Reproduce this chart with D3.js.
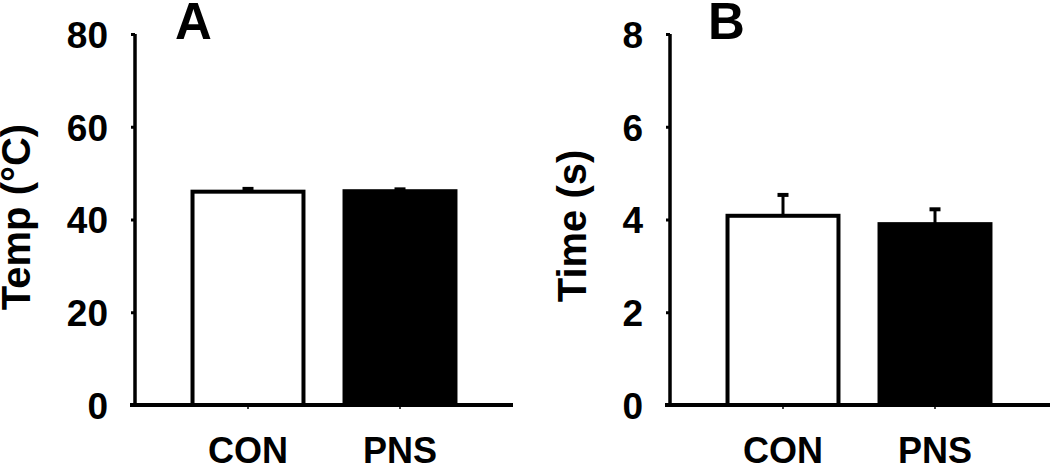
<!DOCTYPE html>
<html>
<head>
<meta charset="utf-8">
<script src="https://cdn.jsdelivr.net/npm/d3@7"></script>
<style>
  body { margin: 0; background: #fff; }
  text { font-family: "Liberation Sans", Arial, sans-serif; font-weight: bold; fill: #000; }
</style>
</head>
<body>
<svg width="1050" height="470"></svg>
<script>
// groups and values
var groups = ["CON", "PNS"];
var fills = ["#fff", "#000"];

var tempMean = [46.0, 46.1];
var tempSem = [0.6, 0.4];
var tempTicks = [0, 20, 40, 60, 80];

var timeMean = [4.08, 3.9];
var timeSem = [0.45, 0.32];
var timeTicks = [0, 2, 4, 6, 8];

var svg = d3.select("svg");

function panel(opts) {
  var y = d3.scaleLinear().domain([0, opts.max]).range([405, 34]);
  var x = d3.scaleBand().domain(groups)
      .range([opts.left, opts.left + 380])
      .paddingInner(0.27).paddingOuter(0.385);

  var g = svg.append("g");

  // bars
  g.selectAll("rect.bar")
    .data(groups)
    .enter().append("rect")
    .attr("class", "bar")
    .attr("x", function(d) { return x(d); })
    .attr("width", x.bandwidth())
    .attr("y", function(d, i) { return y(opts.mean[i]); })
    .attr("height", function(d, i) { return y(0) - y(opts.mean[i]); })
    .attr("fill", function(d, i) { return fills[i]; })
    .attr("stroke", "#000")
    .attr("stroke-width", 4);

  // upper error bars
  var err = g.selectAll("g.err")
    .data(groups)
    .enter().append("g")
    .attr("class", "err");
  err.append("line")
    .attr("x1", function(d) { return x(d) + x.bandwidth() / 2; })
    .attr("x2", function(d) { return x(d) + x.bandwidth() / 2; })
    .attr("y1", function(d, i) { return y(opts.mean[i]); })
    .attr("y2", function(d, i) { return y(opts.mean[i] + opts.sem[i]); })
    .attr("stroke", "#000").attr("stroke-width", 3);
  err.append("line")
    .attr("x1", function(d) { return x(d) + x.bandwidth() / 2 - 5.5; })
    .attr("x2", function(d) { return x(d) + x.bandwidth() / 2 + 5.5; })
    .attr("y1", function(d, i) { return y(opts.mean[i] + opts.sem[i]); })
    .attr("y2", function(d, i) { return y(opts.mean[i] + opts.sem[i]); })
    .attr("stroke", "#000").attr("stroke-width", 4);

  // y axis
  var yAxis = g.append("g")
    .attr("transform", "translate(" + (opts.left + 1) + ",0)")
    .call(d3.axisLeft(y).tickValues(opts.ticks).tickSize(4).tickPadding(23));
  yAxis.select(".domain").attr("d", "M0," + y(opts.max) + "V" + y(0))
    .attr("stroke-width", 3.5);
  yAxis.selectAll(".tick line").attr("stroke-width", 3);
  yAxis.selectAll("text").style("font-size", "37px").attr("dy", "0.36em");

  // x axis
  var xAxis = g.append("g")
    .attr("transform", "translate(0," + y(0) + ")")
    .call(d3.axisBottom(x).tickSize(4).tickPadding(28));
  xAxis.select(".domain")
    .attr("d", "M" + (opts.left - 4) + ",0H" + opts.xEnd)
    .attr("stroke-width", 4);
  xAxis.selectAll(".tick line").attr("stroke-width", 1.5);
  xAxis.selectAll("text").style("font-size", "36px").attr("dy", "0.71em");

  // axis title
  g.append("text")
    .attr("transform", "translate(" + opts.titleX + "," + opts.titleY + ") rotate(-90)")
    .attr("text-anchor", "middle")
    .style("font-size", "40px")
    .text(opts.title);

  // panel letter
  g.append("text")
    .attr("x", opts.letterX)
    .attr("y", 39)
    .style("font-size", "51px")
    .text(opts.letter);
}

panel({ left: 134, xEnd: 513, max: 80, mean: tempMean, sem: tempSem, ticks: tempTicks,
        title: "Temp (°C)", titleX: 30, titleY: 217, letter: "A", letterX: 175 });
panel({ left: 669, xEnd: 1050, max: 8, mean: timeMean, sem: timeSem, ticks: timeTicks,
        title: "Time (s)", titleX: 586, titleY: 226, letter: "B", letterX: 708 });
</script>
</body>
</html>
